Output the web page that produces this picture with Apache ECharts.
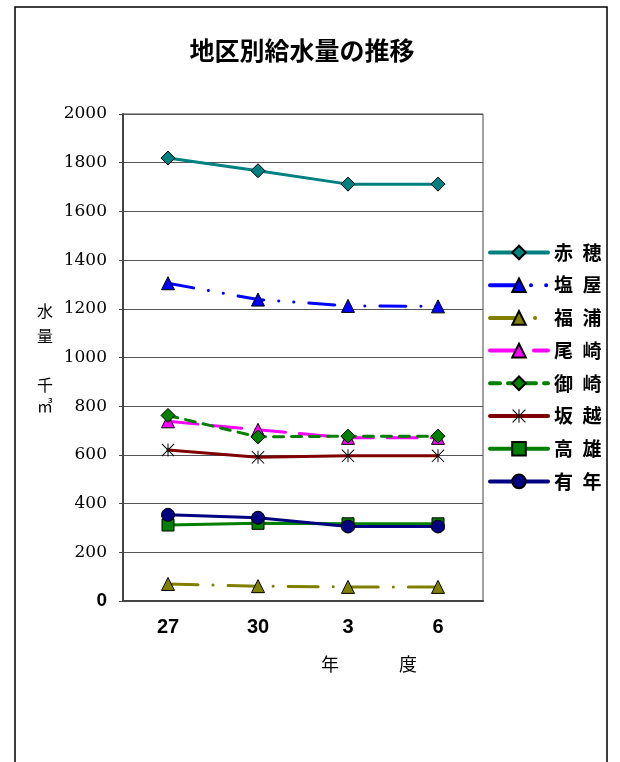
<!DOCTYPE html>
<html><head><meta charset="utf-8">
<script src="https://cdn.jsdelivr.net/npm/echarts@6/dist/echarts.min.js"></script>
<style>html,body{margin:0;padding:0;background:#fff}#c{width:620px;height:762px}</style>
</head><body><div id="c"></div>
<script>
const categories = ['27', '30', '3', '6'];
const yTicks = [0, 200, 400, 600, 800, 1000, 1200, 1400, 1600, 1800, 2000];
const names = ['赤穂', '塩屋', '福浦', '尾崎', '御崎', '坂越', '高雄', '有年'];
const ako = [1819, 1767, 1712, 1712];
const shioya = [1305, 1238, 1212, 1210];
const fukura = [70, 61, 58, 58];
const ozaki = [738, 703, 670, 670];
const misaki = [762, 674, 677, 677];
const sakoshi = [620, 590, 596, 596];
const takao = [312, 319, 317, 317];
const unen = [354, 342, 306, 306];

const asterisk = 'path://M-9.434,-10.566L10.566,9.434L9.434,10.566L-10.566,-9.434Z' +
  'M-9.434,10.566L-10.566,9.434L9.434,-10.566L10.566,-9.434Z' +
  'M-0.8,-10.566L0.8,-10.566L0.8,10.566L-0.8,10.566Z';

function mk(name, data, lineColor, fill, symbol, size, dash, border) {
  return {
    name: name, type: 'line', data: data,
    symbol: symbol, symbolSize: size,
    lineStyle: { color: lineColor, width: 3, type: dash, cap: 'round' },
    itemStyle: { color: fill, borderColor: '#000', borderWidth: border },
    emphasis: { disabled: true }, animation: false
  };
}

const series = [
  mk(names[0], ako, '#008080', '#008080', 'diamond', 14, 'solid', 1),
  mk(names[1], shioya, '#0000FF', '#0000FF', 'triangle', 13, [26, 15, 0.1, 15, 0.1, 15], 1),
  mk(names[2], fukura, '#808000', '#808000', 'triangle', 13, [30, 15, 0.1, 15], 1),
  mk(names[3], ozaki, '#FF00FF', '#FF00FF', 'triangle', 13, [30, 14], 1),
  mk(names[4], misaki, '#008000', '#008000', 'diamond', 14, [10, 8], 1),
  mk(names[5], sakoshi, '#800000', '#000000', asterisk, 13, 'solid', 0),
  mk(names[6], takao, '#008000', '#008000', 'rect', 12, 'solid', 1),
  mk(names[7], unen, '#000080', '#000080', 'circle', 13, 'solid', 1)
];

const chart = echarts.init(document.getElementById('c'), null, { renderer: 'canvas' });
chart.setOption({
  backgroundColor: '#fff',
  animation: false,
  legend: {
    orient: 'vertical', left: 488, top: 243, padding: 0,
    itemWidth: 58, itemHeight: 17, itemGap: 13.7,
    data: names,
    lineStyle: { width: 4 },
    formatter: n => n[0] + '\u2002' + n[1],
    textStyle: { fontFamily: 'Noto Sans CJK JP', fontWeight: 'bold', fontSize: 19, color: '#000', padding: [0, 0, 0, 1] }
  },
  grid: { left: 123, right: 137, top: 114, bottom: 161, containLabel: false, show: true, borderColor: '#444', borderWidth: 1 },
  xAxis: {
    type: 'category', data: categories, boundaryGap: true,
    axisLine: { lineStyle: { color: '#444', width: 2 } },
    axisTick: { show: false },
    axisLabel: { margin: 16, fontFamily: 'Liberation Sans', fontWeight: 'bold', fontSize: 20, color: '#000' }
  },
  yAxis: {
    type: 'value', min: yTicks[0], max: yTicks[yTicks.length - 1], interval: 200,
    axisLine: { show: true, lineStyle: { color: '#444', width: 2 } },
    axisTick: { show: true, length: 4, lineStyle: { color: '#444' } },
    splitLine: { lineStyle: { color: '#555', width: 1 } },
    axisLabel: {
      margin: 16, fontFamily: 'DejaVu Serif', fontSize: 17, color: '#000',
      formatter: v => v === 0 ? '{z|0}' : String(v),
      rich: { z: { fontFamily: 'Liberation Sans', fontWeight: 'bold', fontSize: 19, color: '#000' } }
    }
  },
  graphic: [
    { type: 'rect', shape: { x: 15, y: 7, width: 592, height: 800 }, style: { fill: null, stroke: '#000', lineWidth: 1.5 }, silent: true, z: -1 },
    { type: 'text', x: 302, y: 50, style: { text: '地区別給水量の推移', font: 'bold 25px "Noto Sans CJK JP"', fill: '#000', align: 'center', verticalAlign: 'middle' } },
    { type: 'text', left: 37, top: 298, style: { text: '水\n量', font: '16px "Noto Sans CJK JP"', lineHeight: 25, fill: '#000' } },
    { type: 'text', left: 37, top: 374, style: { text: '千\n㎥', font: '16px "Noto Sans CJK JP"', lineHeight: 21, fill: '#000' } },
    { type: 'text', left: 321, top: 655, style: { text: '年', font: '18px "Noto Sans CJK JP"', fill: '#000' } },
    { type: 'text', left: 399, top: 655, style: { text: '度', font: '18px "Noto Sans CJK JP"', fill: '#000' } }
  ],
  series: series
});
</script></body></html>
